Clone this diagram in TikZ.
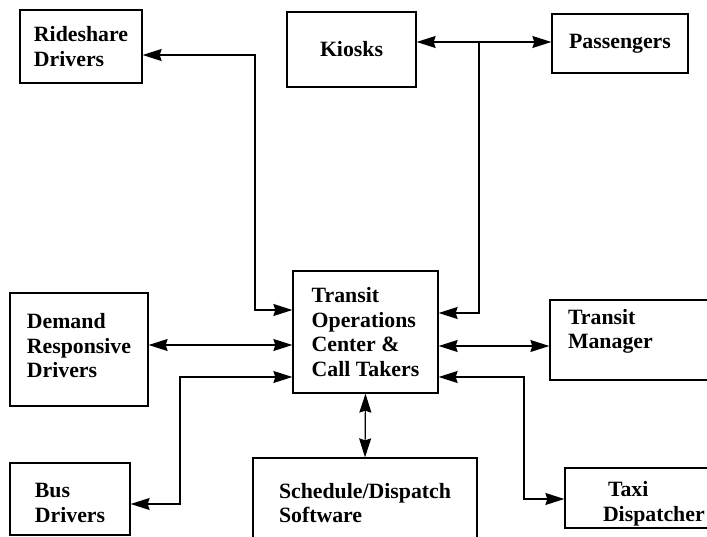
\documentclass[tikz,border=0pt]{standalone}
\usepackage{fontspec}
\setmainfont{Liberation Serif}
\usetikzlibrary{arrows.meta}
\begin{document}
\begin{tikzpicture}[x=1pt,y=-1pt,
  box/.style={draw,line width=1.3pt,rectangle,align=left,inner sep=0pt,
    font=\fontsize{21.8}{24.5}\selectfont\bfseries},
  conn/.style={line width=1.2pt,{Stealth[length=19pt,width=12pt,inset=2pt]}-{Stealth[length=19pt,width=12pt,inset=2pt]}},
  oneway/.style={line width=1.2pt,-{Stealth[length=19pt,width=12pt,inset=2pt]}}]
\clip (0,0) rectangle (707,537);
\fill[white] (0,0) rectangle (707,537);
\node[box,minimum width=122pt,minimum height=73pt] (rs) at (81,46.5) {Rideshare\\Drivers};
\node[box,minimum width=129pt,minimum height=75pt] (kiosk) at (351.5,49.5) {Kiosks};
\node[box,minimum width=136pt,minimum height=59pt] (pass) at (620,43.5) {Passengers};
\node[box,minimum width=145pt,minimum height=122pt] (toc) at (365.5,332) {Transit\\Operations\\Center \&\\Call Takers};
\node[box,minimum width=138pt,minimum height=113pt] (drd) at (79,349.5) {Demand\\Responsive\\Drivers\rule[-8pt]{0pt}{8pt}};
\node[box,minimum width=120pt,minimum height=72pt] (bus) at (70,499) {\rule{0pt}{22pt}Bus\\Drivers};
\node[box,minimum width=224pt,minimum height=90pt] (sched) at (365,503) {Schedule/Dispatch\\Software};
\node[box,minimum width=210pt,minimum height=80pt,inner xsep=18pt,text width=174pt] (mgr) at (655,340) {Transit\\Manager\\[-10pt]\strut};
\node[box,minimum width=195pt,minimum height=60pt,inner xsep=38pt,text width=119pt] (taxi) at (662.5,498) {\rule{0pt}{27pt}\hspace*{5pt}Taxi\\Dispatcher};
% connector corners
\coordinate (kp) at (479,42);
\coordinate (kc) at (479,313);
\coordinate (r1) at (255,55);
\coordinate (r2) at (255,310);
\coordinate (d1) at (220,345);
\coordinate (b1) at (180,377);
\coordinate (b2) at (180,504);
\coordinate (m1) at (500,346);
\coordinate (t1) at (524,377);
\coordinate (t2) at (524,499);
% connectors
\draw[conn] (kiosk.east |- kp) -- (pass.west |- kp);
\draw[oneway] (kp) -- (kc) -- (toc.east |- kc);
\draw[conn] (rs.east |- r1) -- (r1) -- (r2) -- (toc.west |- r2);
\draw[conn] (drd.east |- d1) -- (toc.west |- d1);
\draw[conn] (toc.west |- b1) -- (b1) -- (b2) -- (bus.east |- b2);
\draw[conn] (toc.south) -- (sched.north);
\draw[conn] (toc.east |- m1) -- (mgr.west |- m1);
\draw[conn] (toc.east |- t1) -- (t1) -- (t2) -- (taxi.west |- t2);
\end{tikzpicture}
\end{document}
